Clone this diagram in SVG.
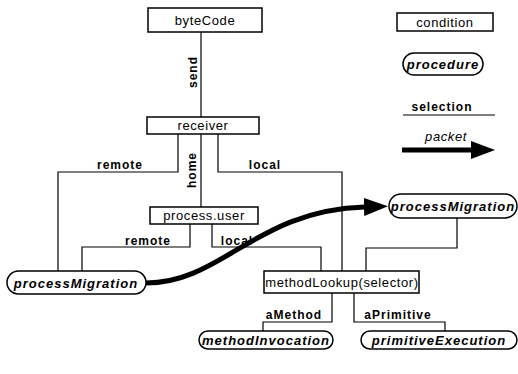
<svg xmlns="http://www.w3.org/2000/svg" width="518" height="374" viewBox="0 0 518 374">
<style>
.box{fill:#fff;stroke:#000;stroke-width:1.5}
.pill{fill:#fff;stroke:#000;stroke-width:1.5}
.bt{font-family:"Liberation Sans",Arial,sans-serif;font-size:13px;letter-spacing:0.6px;text-anchor:middle;fill:#000}
.pt{font-family:"Liberation Sans",Arial,sans-serif;font-size:13px;font-weight:bold;font-style:italic;letter-spacing:1px;text-anchor:middle;fill:#000}
.lb{font-family:"Liberation Sans",Arial,sans-serif;font-size:12px;font-weight:bold;letter-spacing:1px;text-anchor:middle;fill:#000}
.ln{fill:none;stroke:#000;stroke-width:1.2}
.pk{fill:none;stroke:#000;stroke-width:5}
</style>
<defs>
<marker id="ah" markerUnits="userSpaceOnUse" markerWidth="26" markerHeight="20" refX="1" refY="9" orient="auto">
<path d="M0,0 L24,9 L0,18 Z" fill="#000"/>
</marker>
</defs>
<g id="connectors">
<polyline class="ln" points="201,32 201,117"/>
<polyline class="ln" points="178,134 178,172 58,172 58,271"/>
<polyline class="ln" points="201,134 201,207"/>
<polyline class="ln" points="218,134 218,172 342,172 342,271"/>
<polyline class="ln" points="190,224 190,247 82,247 82,271"/>
<polyline class="ln" points="212,224 212,247 321,247 321,271"/>
<polyline class="ln" points="366,271 366,248 457,248 457,218"/>
<polyline class="ln" points="332,293 332,322 263,322 263,331"/>
<polyline class="ln" points="354,293 354,322 445,322 445,331"/>
<path class="pk" d="M146,283 C222,283 256,210 365,207" marker-end="url(#ah)"/>
<text class="lb" transform="translate(197,72) rotate(-90)">send</text>
<text class="lb" transform="translate(196,170) rotate(-90)">home</text>
<text class="lb" x="120" y="169">remote</text>
<text class="lb" x="265" y="169">local</text>
<text class="lb" x="148" y="245">remote</text>
<text class="lb" x="237" y="245">local</text>
<text class="lb" x="294" y="319">aMethod</text>
<text class="lb" x="398" y="319">aPrimitive</text>
</g>
<g id="byteCode">
<rect class="box" x="148" y="8" width="114" height="24"/>
<text class="bt" x="205" y="25">byteCode</text>
</g>
<g id="receiver">
<rect class="box" x="147" y="117" width="112" height="17"/>
<text class="bt" x="203" y="130">receiver</text>
</g>
<g id="processUser">
<rect class="box" x="150" y="207" width="108" height="17"/>
<text class="bt" x="204" y="220">process.user</text>
</g>
<g id="methodLookup">
<rect class="box" x="264" y="271" width="155" height="22"/>
<text class="bt" x="342" y="287">methodLookup(selector)</text>
</g>
<g id="processMigrationLeft">
<rect class="pill" x="7" y="271" width="139" height="23" rx="11.5"/>
<text class="pt" x="76" y="288">processMigration</text>
</g>
<g id="processMigrationRight">
<rect class="pill" x="389" y="194" width="128" height="24" rx="12"/>
<text class="pt" x="453" y="211">processMigration</text>
</g>
<g id="methodInvocation">
<rect class="pill" x="199" y="331" width="134" height="18" rx="9"/>
<text class="pt" x="266" y="345">methodInvocation</text>
</g>
<g id="primitiveExecution">
<rect class="pill" x="361" y="331" width="156" height="18" rx="9"/>
<text class="pt" x="439" y="345">primitiveExecution</text>
</g>
<g id="legend">
<rect class="box" x="397" y="13" width="96" height="18"/>
<text class="bt" x="445" y="27">condition</text>
<rect class="pill" x="403" y="53" width="80" height="22" rx="11"/>
<text class="pt" x="443" y="69">procedure</text>
<text class="lb" x="442" y="111">selection</text>
<line class="ln" x1="403" y1="115" x2="495" y2="115"/>
<text class="bt" x="446" y="141" font-style="italic">packet</text>
<line class="pk" x1="402" y1="150" x2="472" y2="150" marker-end="url(#ah)"/>
</g>
</svg>
